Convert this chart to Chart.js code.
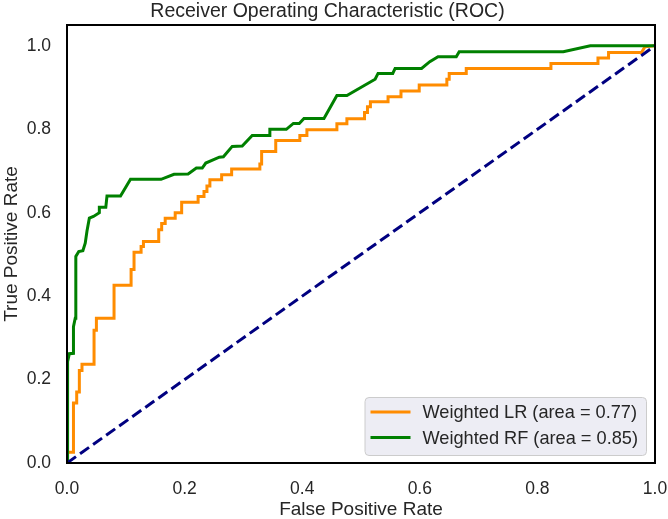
<!DOCTYPE html>
<html>
<head>
<meta charset="utf-8">
<script src="https://cdn.jsdelivr.net/npm/chart.js@4.4.1/dist/chart.umd.min.js"></script>
<style>
  html, body { margin: 0; padding: 0; background: #fff; }
  #wrap { width: 668px; height: 519px; }
</style>
</head>
<body>
<div id="wrap"><canvas id="roc"></canvas></div>
<script>
// ROC curve vertices
var fprLR = [0, 0, 0.011, 0.011, 0.0165, 0.0165, 0.021, 0.021, 0.0255, 0.0255, 0.046, 0.046, 0.050, 0.050, 0.080, 0.080,
  0.109, 0.109, 0.114, 0.114, 0.126, 0.126, 0.130, 0.130, 0.156, 0.156, 0.161, 0.161, 0.167, 0.167, 0.184, 0.184,
  0.195, 0.195, 0.223, 0.223, 0.233, 0.233, 0.238, 0.238, 0.243, 0.243, 0.263, 0.263, 0.280, 0.280, 0.328, 0.328,
  0.331, 0.331, 0.355, 0.355, 0.396, 0.396, 0.408, 0.408, 0.459, 0.459, 0.476, 0.476, 0.506, 0.506, 0.511, 0.511,
  0.516, 0.516, 0.546, 0.546, 0.568, 0.568, 0.599, 0.599, 0.646, 0.646, 0.650, 0.650, 0.679, 0.679, 0.823, 0.823,
  0.903, 0.903, 0.921, 0.921, 0.977, 0.983, 1];
var tprLR = [0, 0.026, 0.026, 0.144, 0.144, 0.170, 0.170, 0.222, 0.222, 0.237, 0.237, 0.318, 0.318, 0.347, 0.347, 0.426,
  0.426, 0.464, 0.464, 0.505, 0.505, 0.519, 0.519, 0.531, 0.531, 0.559, 0.559, 0.574, 0.574, 0.587, 0.587, 0.600,
  0.600, 0.625, 0.625, 0.639, 0.639, 0.651, 0.651, 0.664, 0.664, 0.679, 0.679, 0.691, 0.691, 0.705, 0.705, 0.717,
  0.717, 0.747, 0.747, 0.773, 0.773, 0.785, 0.785, 0.799, 0.799, 0.813, 0.813, 0.825, 0.825, 0.840, 0.840, 0.854,
  0.854, 0.866, 0.866, 0.878, 0.878, 0.892, 0.892, 0.906, 0.906, 0.920, 0.920, 0.934, 0.934, 0.946, 0.946, 0.958,
  0.958, 0.971, 0.971, 0.984, 0.984, 0.998, 1];

var fprRF = [0, 0.001, 0.004, 0.011, 0.011, 0.014, 0.015, 0.020, 0.027, 0.031, 0.034, 0.038, 0.045, 0.055, 0.055, 0.066,
  0.068, 0.091, 0.108, 0.160, 0.182, 0.206, 0.220, 0.230, 0.236, 0.259, 0.266, 0.281, 0.298, 0.315, 0.344, 0.345,
  0.373, 0.385, 0.395, 0.403, 0.437, 0.459, 0.476, 0.507, 0.524, 0.529, 0.554, 0.558, 0.603, 0.617, 0.631, 0.662,
  0.667, 0.844, 0.890, 1];
var tprRF = [0, 0.243, 0.262, 0.263, 0.327, 0.347, 0.495, 0.507, 0.509, 0.527, 0.556, 0.587, 0.591, 0.600, 0.613, 0.613,
  0.640, 0.640, 0.680, 0.680, 0.692, 0.693, 0.707, 0.707, 0.719, 0.733, 0.734, 0.759, 0.760, 0.785, 0.785, 0.800,
  0.800, 0.814, 0.814, 0.826, 0.826, 0.881, 0.881, 0.906, 0.920, 0.934, 0.934, 0.946, 0.946, 0.962, 0.974, 0.974,
  0.986, 0.986, 1.0, 1];

var chanceX = [0, 1];
var chanceY = [0, 1];

var labelLR = "Weighted LR (area = 0.77)";
var labelRF = "Weighted RF (area = 0.85)";
var xTicks = [0, 0.2, 0.4, 0.6, 0.8, 1.0];
var yTicks = [0, 0.2, 0.4, 0.6, 0.8, 1.0];

var toPoints = (xs, ys) => xs.map((x, i) => ({x: x, y: ys[i]}));

var textColor = "#262626";
var fontFamily = "'Liberation Sans', Arial, sans-serif";

// frame around the plot and a matplotlib-style legend box in the lower right
var frameLegend = {
  id: "frameLegend",
  afterDatasetsDraw(chart) {
    var ctx = chart.ctx;
    var a = chart.chartArea;
    ctx.save();
    ctx.strokeStyle = "#000";
    ctx.lineWidth = 2;
    ctx.strokeRect(a.left, a.top, a.right - a.left, a.bottom - a.top);

    // legend rows in plotting order (LR first), datasets are stacked reversed for drawing
    var items = chart.data.datasets.filter(d => d.inLegend).sort((p, q) => p.legendPos - q.legendPos);
    ctx.font = "18.2px " + fontFamily;
    var tw = Math.max.apply(null, items.map(d => ctx.measureText(d.label).width));
    var right = a.right - 9, bottom = a.bottom - 8;
    var rowH = 25.6, h = 58;
    var w = 6 + 40 + 12 + tw + 8;
    var left = right - w, top = bottom - h;
    ctx.beginPath();
    ctx.roundRect(left + 0.5, top + 0.5, w, h, 4);
    ctx.fillStyle = "rgba(234,234,242,0.85)";
    ctx.fill();
    ctx.strokeStyle = "#cccccc";
    ctx.lineWidth = 1;
    ctx.stroke();
    items.forEach((d, i) => {
      var y = top + 15 + i * rowH;
      ctx.beginPath();
      ctx.moveTo(left + 6, y);
      ctx.lineTo(left + 46, y);
      ctx.strokeStyle = d.borderColor;
      ctx.lineWidth = 3;
      ctx.stroke();
      ctx.fillStyle = textColor;
      ctx.textBaseline = "middle";
      ctx.textAlign = "left";
      ctx.fillText(d.label, left + 58, y + 1);
    });
    ctx.restore();
  }
};

new Chart(document.getElementById("roc"), {
  type: "line",
  data: {
    datasets: [
      {
        label: "chance",
        data: toPoints(chanceX, chanceY),
        borderColor: "#000080",
        borderWidth: 3,
        borderDash: [11, 5],
        pointRadius: 0,
        inLegend: false
      },
      {
        label: labelRF,
        data: toPoints(fprRF, tprRF),
        borderColor: "#008000",
        borderWidth: 3,
        pointRadius: 0,
        inLegend: true,
        legendPos: 2
      },
      {
        label: labelLR,
        data: toPoints(fprLR, tprLR),
        borderColor: "#ff8c00",
        borderWidth: 3,
        pointRadius: 0,
        inLegend: true,
        legendPos: 1
      }
    ]
  },
  options: {
    responsive: true,
    maintainAspectRatio: false,
    animation: false,
    layout: {padding: {left: 0, right: 13, top: 0, bottom: 0}},
    elements: {line: {tension: 0, borderJoinStyle: "miter"}},
    plugins: {
      legend: {display: false},
      tooltip: {enabled: false},
      title: {
        display: true,
        text: "Receiver Operating Characteristic (ROC)",
        color: textColor,
        font: {family: fontFamily, size: 19.5, weight: "normal"},
        padding: {top: 0, bottom: 1.6}
      }
    },
    scales: {
      x: {
        type: "linear",
        min: 0,
        max: 1,
        afterBuildTicks: s => { s.ticks = xTicks.map(v => ({value: v})); },
        afterFit: s => { s.height = 56; s.paddingLeft = 0; s.paddingRight = 0; },
        grid: {display: false, drawTicks: false},
        border: {display: false},
        ticks: {
          color: textColor,
          font: {family: fontFamily, size: 17.5},
          padding: 16,
          maxRotation: 0,
          callback: v => v.toFixed(1)
        },
        title: {
          display: true,
          text: "False Positive Rate",
          color: textColor,
          font: {family: fontFamily, size: 19, lineHeight: 1.0},
          padding: {top: 0, bottom: 0}
        }
      },
      y: {
        type: "linear",
        min: 0,
        max: 1.05,
        afterBuildTicks: s => { s.ticks = yTicks.map(v => ({value: v})); },
        afterFit: s => { s.width = 67; s.paddingTop = 0; s.paddingBottom = 0; },
        grid: {display: false, drawTicks: false},
        border: {display: false},
        ticks: {
          color: textColor,
          font: {family: fontFamily, size: 17.5},
          padding: 16,
          callback: v => v.toFixed(1)
        },
        title: {
          display: true,
          text: "True Positive Rate",
          color: textColor,
          font: {family: fontFamily, size: 19, lineHeight: 1.0},
          padding: {top: 2, bottom: 0}
        }
      }
    }
  },
  plugins: [frameLegend]
});
</script>
</body>
</html>
